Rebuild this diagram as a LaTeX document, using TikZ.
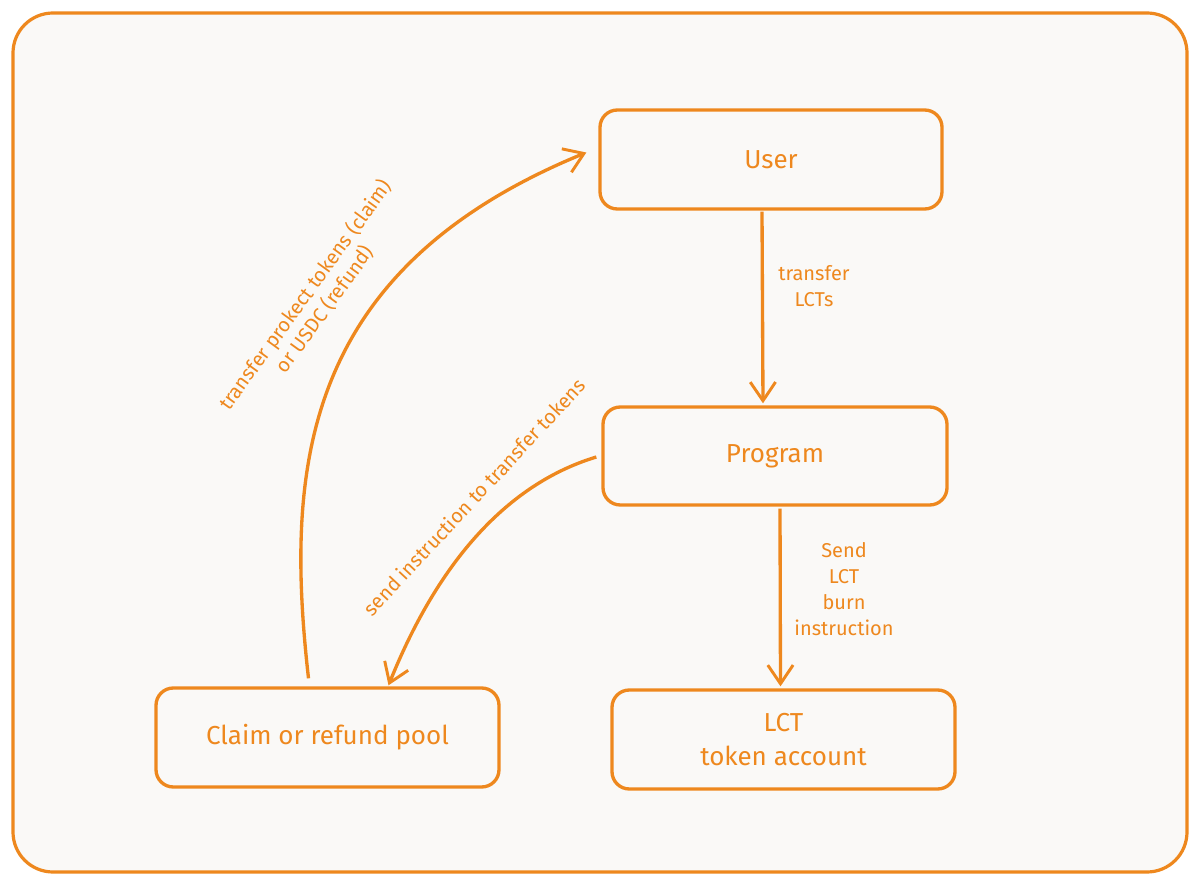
\documentclass[tikz,border=0pt]{standalone}
\usepackage{fontspec}
\setmainfont{Fira Sans}
\usetikzlibrary{arrows.meta,calc}
\definecolor{org}{RGB}{238,136,30}
\definecolor{bgc}{RGB}{250,249,247}
\begin{document}
\begin{tikzpicture}[x=0.75pt,y=-0.75pt,
  box/.style={draw=org, line width=2.5pt, rounded corners=13pt, text=org,
    font=\fontsize{19.5}{24}\selectfont, align=center, inner sep=0pt},
  conn/.style={draw=org, line width=2.5pt, -{Straight Barb[length=14pt,width=19pt,line width=2.2pt]}},
  lbl/.style={text=org, font=\fontsize{15}{19.5}\selectfont, align=center, inner sep=0pt}]
\useasboundingbox (0,0) rectangle (1200,884);
\fill[white] (0,0) rectangle (1200,884);
\draw[draw=org, fill=bgc, line width=2.4pt, rounded corners=30pt] (13,13) rectangle (1187,872);

\node[box, minimum width=342*0.75pt, minimum height=99*0.75pt] (user) at (771,159.5) {User};
\node[box, minimum width=344*0.75pt, minimum height=98*0.75pt] (prog) at (775,456) {Program};
\node[box, minimum width=343*0.75pt, minimum height=99*0.75pt] (claim) at (327.5,737.5) {Claim or refund pool};
\node[box, minimum width=343*0.75pt, minimum height=99*0.75pt, font=\fontsize{19.5}{26}\selectfont] (lct) at (783.5,739.5) {LCT\\token account};

\draw[conn] ($(user.south)+(-9,1)$) -- ($(prog.north)+(-12,-2)$);
\node[lbl] (l1) at (814,286) {transfer\\LCTs};

\draw[conn] ($(prog.south)+(5,2)$) -- ($(lct.north)+(-3,-2)$);
\node[lbl] (l2) at (844,589) {Send\\LCT\\burn\\instruction};

\draw[conn] ($(prog.west)+(-5,1)$) .. controls (520,480) and (445,545) .. ($(claim.north)+(61,-1)$);
\node[lbl, rotate=47] (l3) at (474,497) {send instruction to transfer tokens};

\draw[conn] ($(claim.north)+(-19,-8)$) .. controls (285,470) and (300,270) .. ($(user.west)+(-12,-7)$);
\node[lbl, rotate=54, font=\fontsize{15}{18}\selectfont] (l4) at (315,302) {transfer prokect tokens (claim)\\or USDC (refund)};
\end{tikzpicture}
\end{document}
